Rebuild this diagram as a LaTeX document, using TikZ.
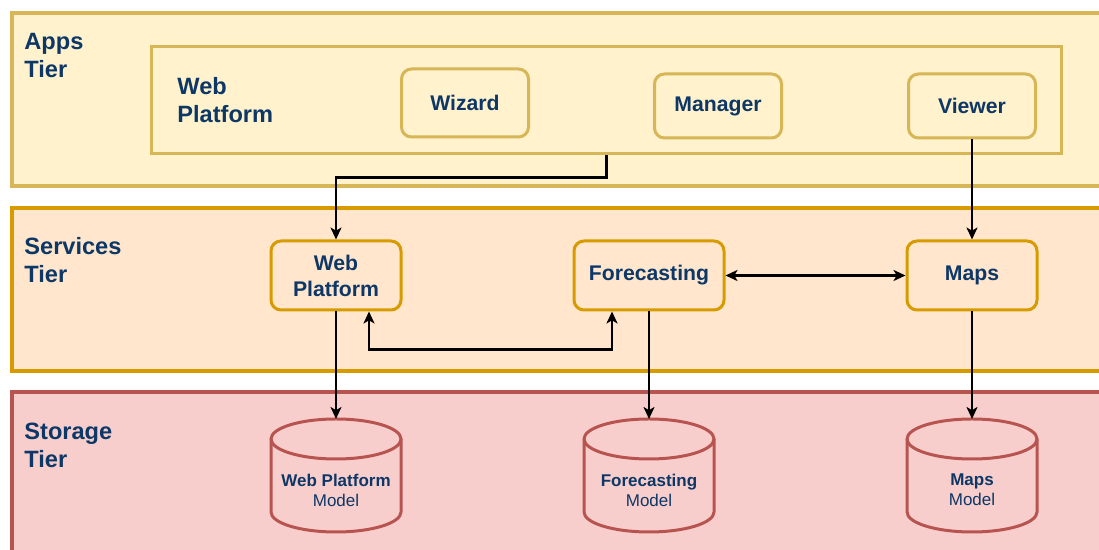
\documentclass[tikz,border=0pt]{standalone}
\usepackage{fontspec}
\setmainfont{Liberation Sans}
\usetikzlibrary{arrows.meta,calc}

\definecolor{appsfill}{HTML}{FFF2CC}
\definecolor{appsline}{HTML}{D6B656}
\definecolor{svcfill}{HTML}{FFE6CC}
\definecolor{svcline}{HTML}{D79B00}
\definecolor{dbfill}{HTML}{F8CECC}
\definecolor{dbline}{HTML}{B85450}
\definecolor{labelblue}{HTML}{0D3766}

% outline of a storage cylinder round a (blank) node
\newcommand{\drawdb}[1]{%
	\draw[draw=dbline, fill=dbfill, line width=1.5pt]
	($(#1.north west)+(0,-20)$) -- ($(#1.south west)+(0,20)$)
	arc[start angle=180, end angle=360, x radius=65, y radius=20]
	-- ($(#1.north east)+(0,-20)$)
	arc[start angle=0, end angle=180, x radius=65, y radius=20] -- cycle;
	\draw[draw=dbline, line width=1.5pt] ($(#1.north west)+(0,-20)$)
	arc[start angle=180, end angle=360, x radius=65, y radius=20];}

\begin{document}
\begin{tikzpicture}[x=0.5pt, y=0.5pt, >={Stealth[length=6pt,width=5.5pt,inset=1.6pt]},
	tiername/.style={anchor=north west, align=left, inner sep=0, text=labelblue,
		font=\fontsize{11.8}{14}\selectfont\bfseries},
	appbox/.style={draw=appsline, fill=appsfill, line width=1.5pt, rounded corners=5pt,
		align=center, text=labelblue, font=\fontsize{10.6}{13}\selectfont\bfseries,
		minimum width=63.5pt, minimum height=32pt, inner sep=0},
	svcbox/.style={appbox, draw=svcline, fill=svcfill, minimum width=65pt, minimum height=34.5pt},
	dbnode/.style={minimum width=65pt, minimum height=56.5pt, inner sep=0, outer sep=0},
	dbtext/.style={align=center, inner sep=0, text=labelblue, font=\fontsize{8.5}{10}\selectfont},
	conn/.style={->, line width=1.3pt}]
	\useasboundingbox (0,0) rectangle (1099,550);

	% tiers
	\draw[draw=appsline, fill=appsfill, line width=1.75pt] (12,537) rectangle (1115,364);
	\draw[draw=svcline, fill=svcfill, line width=1.75pt] (12,342) rectangle (1115,179);
	\draw[draw=dbline, fill=dbfill, line width=1.75pt] (12,158) rectangle (1115,-15);

	\node[tiername] (appslabel) at (24,517) {Apps\\Tier};
	\node[tiername] (svclabel) at (24,313) {Services\\Tier};
	\node[tiername] (storelabel) at (24,127) {Storage\\Tier};

	% apps tier
	\node[draw=appsline, fill=appsfill, line width=1.75pt, minimum width=455pt, minimum height=53.5pt] (webcont) at (606.5,450) {};
	\node[tiername] (webcontlabel) at (177,473) {Web\\Platform};
	\node[appbox, minimum height=34pt] (wizard) at (465,447) {Wizard};
	\node[appbox] (manager) at (718,444) {Manager};
	\node[appbox] (viewer) at (972,444) {Viewer};

	% services tier
	\node[svcbox] (wpsvc) at (336,274.5) {Web\\Platform};
	\node[svcbox, minimum width=75pt] (fc) at (649,274.5) {Forecasting};
	\node[svcbox] (maps) at (972,274.5) {Maps};

	% storage tier
	\node[dbnode] (wpm) at (336,74.5) {};
	\node[dbnode] (fcm) at (649,74.5) {};
	\node[dbnode] (mpm) at (972,74.5) {};
	\drawdb{wpm}
	\drawdb{fcm}
	\drawdb{mpm}
	\node[dbtext] (wpmtext) at ([yshift=-7.25pt]wpm.center) {\textbf{Web Platform}\\Model};
	\node[dbtext] (fcmtext) at ([yshift=-7.25pt]fcm.center) {\textbf{Forecasting}\\Model};
	\node[dbtext] (mpmtext) at ([yshift=-7.25pt]mpm.center) {\textbf{Maps}\\Model};

	% connectors
	\draw[conn] (webcont.south) -- ++(0,-22) -| (wpsvc.north);
	\draw[conn] (viewer) -- (maps);
	\draw[conn, <->] (fc) -- (maps);
	\draw[conn, <->] ([xshift=16.5pt]wpsvc.south) -- ++(0,-38) -| ([xshift=-18.5pt]fc.south);
	\draw[conn] (wpsvc) -- (wpm);
	\draw[conn] (fc) -- (fcm);
	\draw[conn] (maps) -- (mpm);
\end{tikzpicture}
\end{document}
